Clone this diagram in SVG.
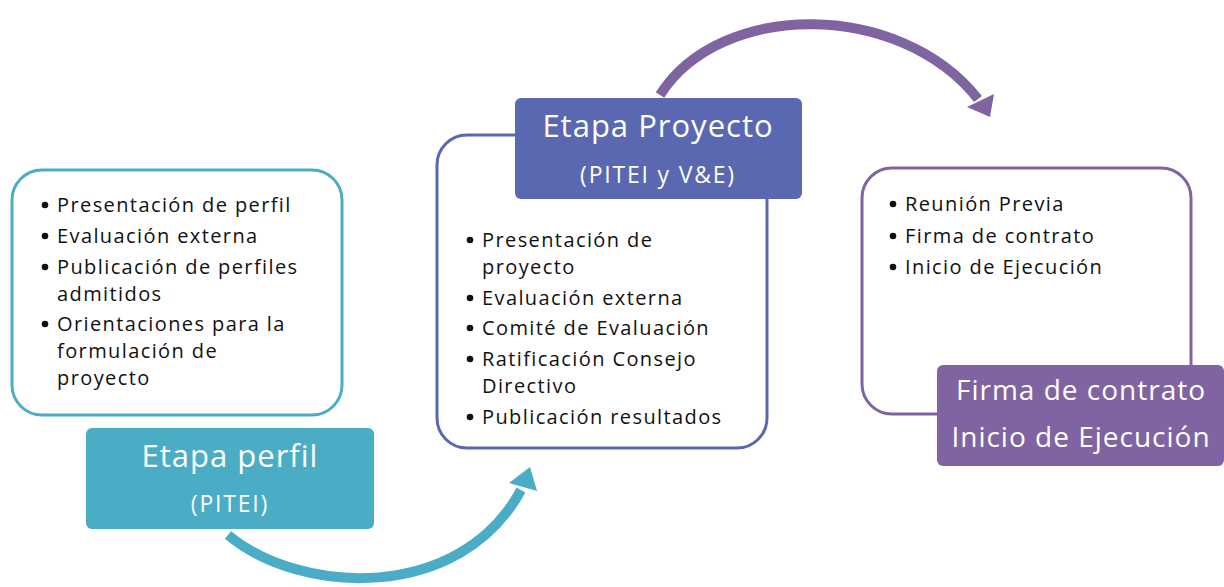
<svg xmlns="http://www.w3.org/2000/svg" width="1224" height="587" viewBox="0 0 1224 587">
<style>
.t{font-family:"Open Sans","DejaVu Sans",sans-serif;font-size:20px;letter-spacing:1.4px;fill:#111}
.b{fill:#111}
.h{font-family:"Open Sans","DejaVu Sans",sans-serif;fill:#fff;text-anchor:middle}
.h1{font-size:31px;letter-spacing:1px}
.h2{font-size:23px;letter-spacing:1.8px}
.h3{font-size:28px;letter-spacing:1px}
.box{fill:#fff;stroke-width:3}
</style>
<rect width="1224" height="587" fill="#fff"/>
<g id="connectors">
<path d="M228,535 C300,595 460,603 521,490" fill="none" stroke="#4BACC6" stroke-width="10"/>
<polygon points="530,467 509,483 537,491" fill="#4BACC6"/>
<path d="M660,95 C720,0 900,0 978,99" fill="none" stroke="#8064A2" stroke-width="10"/>
<polygon points="990,117 967,107 994,94" fill="#8064A2"/>
</g>
<g id="perfil-list">
<rect class="box" x="12" y="170" width="330" height="245" rx="30" stroke="#4BACC6"/>
<g class="b">
<circle cx="45" cy="205" r="3.3"/><circle cx="45" cy="236" r="3.3"/><circle cx="45" cy="267" r="3.3"/><circle cx="45" cy="324" r="3.3"/>
</g>
<g class="t">
<text x="57" y="212">Presentación de perfil</text>
<text x="57" y="243">Evaluación externa</text>
<text x="57" y="274">Publicación de perfiles</text>
<text x="57" y="301">admitidos</text>
<text x="57" y="331">Orientaciones para la</text>
<text x="57" y="358">formulación de</text>
<text x="57" y="385">proyecto</text>
</g>
</g>
<g id="perfil-label">
<rect x="86" y="428" width="288" height="101" rx="6" fill="#4BACC6"/>
<text class="h h1" x="230" y="467">Etapa perfil</text>
<text class="h h2" x="230" y="512">(PITEI)</text>
</g>
<g id="proyecto-list">
<rect class="box" x="437" y="135" width="330" height="313" rx="30" stroke="#5A68B2"/>
<g class="b">
<circle cx="470" cy="240" r="3.3"/><circle cx="470" cy="298" r="3.3"/><circle cx="470" cy="328" r="3.3"/><circle cx="470" cy="359" r="3.3"/><circle cx="470" cy="417" r="3.3"/>
</g>
<g class="t">
<text x="482" y="247">Presentación de</text>
<text x="482" y="274">proyecto</text>
<text x="482" y="305">Evaluación externa</text>
<text x="482" y="335">Comité de Evaluación</text>
<text x="482" y="366">Ratificación Consejo</text>
<text x="482" y="393">Directivo</text>
<text x="482" y="424">Publicación resultados</text>
</g>
</g>
<g id="proyecto-label">
<rect x="515" y="98" width="287" height="101" rx="6" fill="#5A68B2"/>
<text class="h h1" x="658" y="137">Etapa Proyecto</text>
<text class="h h2" x="658" y="183">(PITEI y V&amp;E)</text>
</g>
<g id="contrato-list">
<rect class="box" x="862" y="168" width="329" height="246" rx="30" stroke="#8064A2"/>
<g class="b">
<circle cx="893" cy="204" r="3.3"/><circle cx="893" cy="236" r="3.3"/><circle cx="893" cy="267" r="3.3"/>
</g>
<g class="t">
<text x="905" y="211">Reunión Previa</text>
<text x="905" y="243">Firma de contrato</text>
<text x="905" y="274">Inicio de Ejecución</text>
</g>
</g>
<g id="contrato-label">
<rect x="937" y="365" width="287" height="101" rx="6" fill="#8064A2"/>
<text class="h h3" x="1081" y="400">Firma de contrato</text>
<text class="h h3" x="1081" y="447">Inicio de Ejecución</text>
</g>
</svg>
